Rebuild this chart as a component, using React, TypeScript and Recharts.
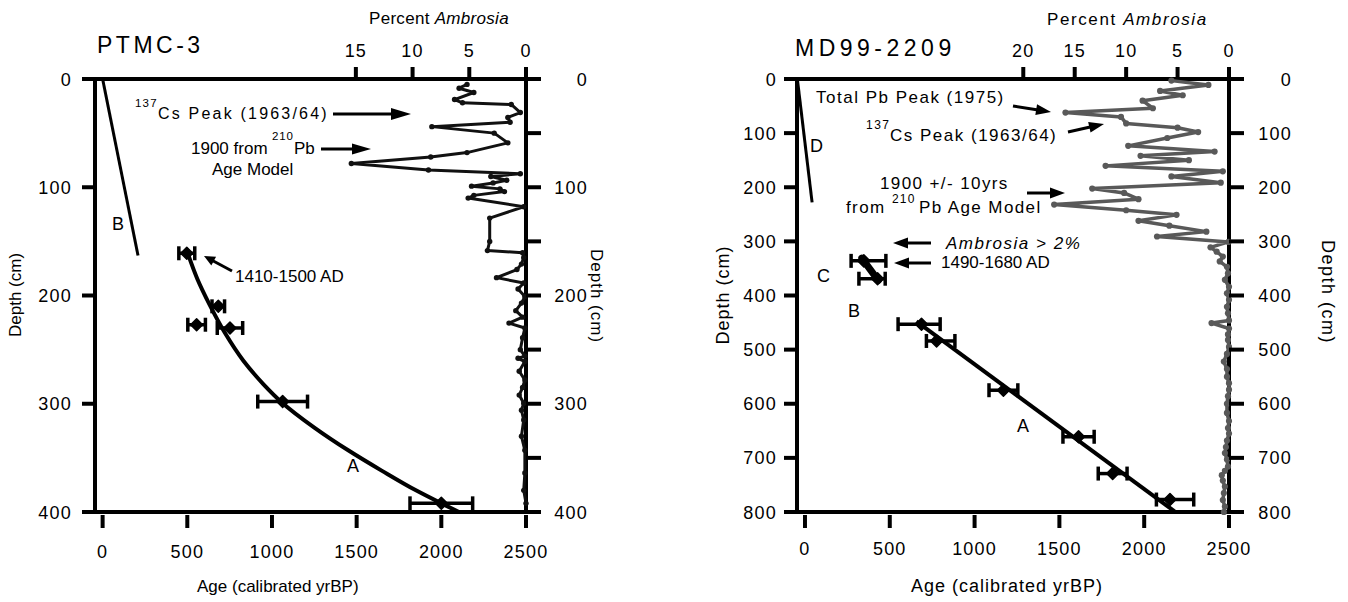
import React from 'react';
import { ScatterChart, Scatter, XAxis, YAxis, ErrorBar } from 'recharts';

const FONT = '"Liberation Sans", Arial, Helvetica, sans-serif';

// ---------- PTMC-3 (left panel) ----------
const ptmcDateAge = [497, 683, 555, 752, 1063, 2000];
const ptmcDateDepth = [161, 210, 227, 230, 298, 392];
const ptmcDateErr = [47, 37, 52, 75, 147, 185];
const ptmcCurveAAge = [507, 560, 630, 720, 830, 950, 1060, 1250, 1450, 1650, 1850, 2000, 2104];
const ptmcCurveADepth = [163, 185, 208, 234, 260, 282, 299, 322, 343, 362, 380, 392, 400];
const ptmcLineBAge = [0, 209];
const ptmcLineBDepth = [0, 163];
const ptmcAmbDepth = [5, 8.5, 12.5, 19, 22, 23.5, 31, 35.5, 40, 44, 50, 59, 68, 72, 78, 84, 87.5, 90, 93.5, 96, 99, 101.5, 104, 107.5, 110, 118, 128.5, 150, 158.5, 160.5, 165, 171, 176, 183.5, 188.5, 194, 201, 207, 214, 220, 225.5, 230, 239, 250, 256, 258, 261, 270, 278, 285, 292, 299.5, 306, 315, 330, 343, 364, 380, 392];
const ptmcAmbPct = [5.2, 5.9, 4.6, 6.3, 5.6, 1.3, 0.5, 1.6, 1.4, 8.3, 2.8, 1.6, 5.2, 8.4, 15.4, 8.6, 0.5, 3.1, 1.7, 2.9, 4.8, 2.3, 1.9, 4.6, 5.1, 0.2, 3.2, 3.2, 3.4, 0.3, 0.2, 0.4, 0.8, 2.6, 0.2, 0.7, 0.1, 0.4, 0.9, 0.3, 1.5, 0.1, 0.3, 0.5, 0.1, 0.7, 0.1, 0.6, 0.1, 0.3, 0.6, 0.2, 0.4, 0.2, 0.4, 0.1, 0.1, 0.2, 0];

// ---------- MD99-2209 (right panel) ----------
const mdDateAge = [687, 776, 1170, 1613, 1814, 2152];
const mdDateDepth = [453, 484, 575, 661, 729, 777];
const mdDateErrLow = [138, 60, 85, 92, 85, 80];
const mdDateErrHigh = [110, 108, 85, 92, 85, 140];
const mdCAge = [347, 428];
const mdCDepth = [336, 369];
const mdCErrLow = [75, 110];
const mdCErrHigh = [130, 45];
const mdCLineAge = [335, 432];
const mdCLineDepth = [331, 372];
const mdLineAAge = [657, 2184];
const mdLineADepth = [448, 800];
const mdLineDAge = [-45, 42];
const mdLineDDepth = [0, 228];
const mdAmbDepth = [3, 11, 22, 30, 40, 54, 62, 70, 82, 90, 98, 109, 123.5, 134, 142, 150, 160.5, 170.5, 180, 191.5, 202.5, 210.5, 222, 232, 242.5, 251, 262, 271, 282, 291, 301, 311, 319, 328, 337, 347, 359, 371, 384, 396, 408, 421, 433, 446, 451, 461, 472, 482, 495, 508, 522, 536, 550, 562, 574, 586, 600, 617, 632, 645, 655, 668, 680, 691, 703, 716, 724, 732, 742, 753, 765, 778, 790, 800];
const mdAmbPct = [5.6, 2.0, 6.7, 4.5, 8.4, 7.4, 15.9, 10.5, 10.0, 5.0, 3.0, 6.0, 9.8, 1.4, 8.6, 3.9, 12.0, 0.6, 5.6, 0.8, 13.3, 10.2, 8.8, 17.0, 10.0, 5.1, 8.8, 5.8, 2.2, 7.0, 0.05, 1.8, 1.2, 0.6, 0.9, 0.2, 0.1, 0.4, 0.0, 0.2, 0.0, 0.2, 0.1, 0.0, 1.7, 0.0, 0.1, 0.1, 0.0, 0.2, 0.5, 0.2, 0.2, 0.0, 0.0, 0.1, 0.2, 0.2, 0.0, 0.1, 0.0, 0.2, 0.3, 0.4, 0.2, 0.1, 0.4, 0.7, 0.6, 0.4, 0.5, 0.6, 0.4, 0.5];

// ---------- tick labels ----------
const ageTicks = [0, 500, 1000, 1500, 2000, 2500];
const ptmcDepthTicks = [0, 100, 200, 300, 400];
const ptmcDepthRightTicks = [0, 50, 100, 150, 200, 250, 300, 350, 400];
const ptmcAmbTicks = [0, 5, 10, 15];
const mdDepthTicks = [0, 100, 200, 300, 400, 500, 600, 700, 800];
const mdAmbTicks = [0, 5, 10, 15, 20];

const zip = (xs: number[], ys: number[]) => xs.map((x, i) => ({ x, y: ys[i] }));

const TICK_FS = 18;
const TICK_LS = 1.2;

const mkBottomTick = (dy: number) => (p: any) => (
  <g>
    <line x1={p.x} x2={p.x} y1={p.y + 3} y2={p.y + 16} stroke="#000" strokeWidth={4} />
    <text x={p.x} y={p.y + dy} textAnchor="middle" fontSize={TICK_FS} letterSpacing={TICK_LS} fontFamily={FONT} fill="#000">{p.payload.value}</text>
  </g>
);
const TopTick = (p: any) => (
  <g>
    <line x1={p.x} x2={p.x} y1={p.y - 12} y2={p.y} stroke="#000" strokeWidth={4} />
    <text x={p.x} y={p.y - 22} textAnchor="middle" fontSize={TICK_FS} letterSpacing={TICK_LS} fontFamily={FONT} fill="#000">{p.payload.value}</text>
  </g>
);
const mkLeftTick = (gap: number) => (p: any) => (
  <g>
    <line x1={p.x - 13} x2={p.x} y1={p.y} y2={p.y} stroke="#000" strokeWidth={4} />
    <text x={p.x - gap} y={p.y + 6.5} textAnchor="end" fontSize={TICK_FS} letterSpacing={TICK_LS} fontFamily={FONT} fill="#000">{p.payload.value}</text>
  </g>
);
const mkRightTick = (gap: number) => (p: any) => (
  <g>
    <line x1={p.x} x2={p.x + 15} y1={p.y} y2={p.y} stroke="#000" strokeWidth={4} />
    {p.payload.value % 100 === 0 ? (
      <text x={p.x + gap} y={p.y + 6.5} textAnchor="end" fontSize={TICK_FS} letterSpacing={TICK_LS} fontFamily={FONT} fill="#000">{p.payload.value}</text>
    ) : null}
  </g>
);

const NoShape = () => <g />;
const Diamond = (p: any) => (
  <polygon
    points={`${p.cx},${p.cy - 6} ${p.cx + 6},${p.cy} ${p.cx},${p.cy + 6} ${p.cx - 6},${p.cy}`}
    fill="#000" stroke="#000" strokeWidth={1.5} strokeLinejoin="round"
  />
);
const mkDot = (color: string, r: number) => (p: any) => <circle cx={p.cx} cy={p.cy} r={r} fill={color} />;

const axisLine = { stroke: '#000', strokeWidth: 4, strokeLinecap: 'square' as const };

type PanelProps = {
  width: number;
  marginRight: number;
  ageDomain: [number, number];
  depthMax: number;
  depthTicks: number[];
  depthRightTicks: number[];
  ambMax: number;
  ambTicks: number[];
  leftGap: number;
  rightGap: number;
  bottomDy: number;
  children: React.ReactNode;
};

function Panel(props: PanelProps) {
  return (
    <ScatterChart
      width={props.width}
      height={602}
      margin={{ top: 29, right: props.marginRight, bottom: 30, left: 35 }}
    >
      <XAxis
        xAxisId="age" dataKey="x" type="number" orientation="bottom" height={60}
        domain={props.ageDomain} ticks={ageTicks} interval={0}
        axisLine={axisLine} tickLine={false} tickSize={0} tickMargin={0}
        tick={mkBottomTick(props.bottomDy)}
      />
      <XAxis
        xAxisId="amb" dataKey="x" type="number" orientation="top" height={50}
        domain={[0, props.ambMax]} reversed ticks={props.ambTicks} interval={0}
        axisLine={axisLine} tickLine={false} tickSize={0} tickMargin={0}
        tick={TopTick}
      />
      <YAxis
        yAxisId="depth" dataKey="y" type="number" orientation="left" width={60}
        domain={[0, props.depthMax]} reversed ticks={props.depthTicks} interval={0}
        axisLine={axisLine} tickLine={false} tickSize={0} tickMargin={0}
        tick={mkLeftTick(props.leftGap)}
      />
      <YAxis
        yAxisId="depthR" dataKey="y" type="number" orientation="right" width={80}
        domain={[0, props.depthMax]} reversed ticks={props.depthRightTicks} interval={0}
        axisLine={axisLine} tickLine={false} tickSize={0} tickMargin={0}
        tick={mkRightTick(props.rightGap)}
      />
      {props.children}
    </ScatterChart>
  );
}

function Arrow({ x1, y1, x2, y2, w = 3, hl = 16, hw = 6 }: { x1: number; y1: number; x2: number; y2: number; w?: number; hl?: number; hw?: number }) {
  const dx = x2 - x1;
  const dy = y2 - y1;
  const L = Math.hypot(dx, dy);
  const ux = dx / L;
  const uy = dy / L;
  const bx = x2 - ux * hl;
  const by = y2 - uy * hl;
  const px = -uy;
  const py = ux;
  return (
    <g>
      <line x1={x1} y1={y1} x2={bx + ux * 2} y2={by + uy * 2} stroke="#000" strokeWidth={w} />
      <polygon points={`${x2},${y2} ${bx + px * hw},${by + py * hw} ${bx - px * hw},${by - py * hw}`} fill="#000" />
    </g>
  );
}

export default function App() {
  const ptmcDates = ptmcDateAge.map((x, i) => ({ x, y: ptmcDateDepth[i], err: ptmcDateErr[i] }));
  const mdDates = mdDateAge.map((x, i) => ({ x, y: mdDateDepth[i], err: [mdDateErrLow[i], mdDateErrHigh[i]] }));
  const mdC = mdCAge.map((x, i) => ({ x, y: mdCDepth[i], err: [mdCErrLow[i], mdCErrHigh[i]] }));

  const txt = { fontFamily: FONT, fill: '#000' } as const;

  return (
    <div style={{ position: 'absolute', left: 0, top: 0, width: 1348, height: 602, background: '#fff', fontFamily: FONT }}>
      <div style={{ position: 'absolute', left: 0, top: 0 }}>
        <Panel width={674} marginRight={68} ageDomain={[-45, 2500]} depthMax={400}
          depthTicks={ptmcDepthTicks} depthRightTicks={ptmcDepthRightTicks}
          ambMax={38} ambTicks={ptmcAmbTicks} leftGap={23} rightGap={62} bottomDy={46}>
          <Scatter xAxisId="amb" yAxisId="depthR" data={zip(ptmcAmbPct, ptmcAmbDepth)}
            line={{ stroke: '#111', strokeWidth: 3, strokeLinejoin: 'round' }} lineType="joint"
            shape={mkDot('#111', 2.7)} isAnimationActive={false} />
          <Scatter xAxisId="age" yAxisId="depth" data={zip(ptmcLineBAge, ptmcLineBDepth)}
            line={{ stroke: '#000', strokeWidth: 3 }} lineType="joint" shape={NoShape} isAnimationActive={false} />
          <Scatter xAxisId="age" yAxisId="depth" data={zip(ptmcCurveAAge, ptmcCurveADepth)}
            line={{ stroke: '#000', strokeWidth: 4, strokeLinejoin: 'round' }} lineType="joint" lineJointType="monotoneY"
            shape={NoShape} isAnimationActive={false} />
          <Scatter xAxisId="age" yAxisId="depth" data={ptmcDates} shape={Diamond} isAnimationActive={false}>
            <ErrorBar dataKey="err" direction="x" width={7} strokeWidth={3.5} stroke="#000" isAnimationActive={false} />
          </Scatter>
        </Panel>
      </div>
      <div style={{ position: 'absolute', left: 702, top: 0 }}>
        <Panel width={646} marginRight={39} ageDomain={[-47, 2500]} depthMax={800}
          depthTicks={mdDepthTicks} depthRightTicks={mdDepthTicks}
          ambMax={42} ambTicks={mdAmbTicks} leftGap={20} rightGap={63} bottomDy={43}>
          <Scatter xAxisId="amb" yAxisId="depthR" data={zip(mdAmbPct, mdAmbDepth)}
            line={{ stroke: '#595959', strokeWidth: 3.5, strokeLinejoin: 'round' }} lineType="joint"
            shape={mkDot('#595959', 3.1)} isAnimationActive={false} />
          <Scatter xAxisId="age" yAxisId="depth" data={zip(mdLineDAge, mdLineDDepth)}
            line={{ stroke: '#000', strokeWidth: 3 }} lineType="joint" shape={NoShape} isAnimationActive={false} />
          <Scatter xAxisId="age" yAxisId="depth" data={zip(mdLineAAge, mdLineADepth)}
            line={{ stroke: '#000', strokeWidth: 4 }} lineType="joint" shape={NoShape} isAnimationActive={false} />
          <Scatter xAxisId="age" yAxisId="depth" data={zip(mdCLineAge, mdCLineDepth)}
            line={{ stroke: '#000', strokeWidth: 7, strokeLinecap: 'round' }} lineType="joint" shape={NoShape} isAnimationActive={false} />
          <Scatter xAxisId="age" yAxisId="depth" data={mdC} shape={Diamond} isAnimationActive={false}>
            <ErrorBar dataKey="err" direction="x" width={7} strokeWidth={3.5} stroke="#000" isAnimationActive={false} />
          </Scatter>
          <Scatter xAxisId="age" yAxisId="depth" data={mdDates} shape={Diamond} isAnimationActive={false}>
            <ErrorBar dataKey="err" direction="x" width={7} strokeWidth={3.5} stroke="#000" isAnimationActive={false} />
          </Scatter>
        </Panel>
      </div>

      <svg width={1348} height={602} style={{ position: 'absolute', left: 0, top: 0, pointerEvents: 'none' }}>
        {/* ---- left panel texts ---- */}
        <text x={97} y={53} fontSize={23} letterSpacing={3.5} {...txt}>PTMC-3</text>
        <text x={369} y={24} fontSize={17} letterSpacing={0.3} {...txt}>Percent <tspan fontStyle="italic">Ambrosia</tspan></text>
        <text x={197} y={592} fontSize={17} {...txt}>Age (calibrated yrBP)</text>
        <text transform="translate(21,295) rotate(-90)" textAnchor="middle" fontSize={17} {...txt}>Depth (cm)</text>
        <text transform="translate(591,296) rotate(90)" textAnchor="middle" fontSize={17} letterSpacing={1} {...txt}>Depth (cm)</text>

        <text x={135} y={107} fontSize={11.5} letterSpacing={1.2} {...txt}>137</text>
        <text x={158} y={119} fontSize={16} letterSpacing={2.2} {...txt}>Cs Peak (1963/64)</text>
        <Arrow x1={333} y1={114} x2={411} y2={114} hl={20} hw={6} />
        <text x={191} y={154} fontSize={17} {...txt}>1900 from</text>
        <text x={272} y={140} fontSize={11.5} letterSpacing={0.8} {...txt}>210</text>
        <text x={294} y={154} fontSize={17} {...txt}>Pb</text>
        <Arrow x1={321} y1={149} x2={371} y2={149} hl={19} hw={5.5} />
        <text x={212} y={175} fontSize={17} {...txt}>Age Model</text>
        <text x={235} y={282} fontSize={17} {...txt}>1410-1500 AD</text>
        <Arrow x1={232} y1={271} x2={204} y2={256} hl={11} hw={5} />
        <text x={112} y={230} fontSize={18} {...txt}>B</text>
        <text x={347} y={472} fontSize={18} {...txt}>A</text>

        {/* ---- right panel texts ---- */}
        <text x={795} y={56} fontSize={23} letterSpacing={4.5} {...txt}>MD99-2209</text>
        <text x={1047} y={25} fontSize={17} letterSpacing={1.6} {...txt}>Percent <tspan fontStyle="italic">Ambrosia</tspan></text>
        <text x={911} y={592} fontSize={18} letterSpacing={1} {...txt}>Age (calibrated yrBP)</text>
        <text transform="translate(729,295) rotate(-90)" textAnchor="middle" fontSize={18} letterSpacing={1} {...txt}>Depth (cm)</text>
        <text transform="translate(1322,292) rotate(90)" textAnchor="middle" fontSize={18} letterSpacing={1.5} {...txt}>Depth (cm)</text>

        <text x={816} y={103} fontSize={17} letterSpacing={1.5} {...txt}>Total Pb Peak (1975)</text>
        <Arrow x1={1013} y1={106} x2={1051} y2={112} hl={15} hw={5.5} />
        <text x={866} y={129} fontSize={12} letterSpacing={1.5} {...txt}>137</text>
        <text x={890} y={141} fontSize={17} letterSpacing={1.5} {...txt}>Cs Peak (1963/64)</text>
        <Arrow x1={1068} y1={132} x2={1104} y2={124} hl={15} hw={5.5} />
        <text x={880} y={189} fontSize={17} letterSpacing={1.4} {...txt}>1900 +/- 10yrs</text>
        <text x={846} y={213} fontSize={17} letterSpacing={1.4} {...txt}>from</text>
        <text x={892} y={203} fontSize={12} letterSpacing={1.2} {...txt}>210</text>
        <text x={919} y={213} fontSize={17} letterSpacing={1.4} {...txt}>Pb Age Model</text>
        <Arrow x1={1027} y1={193} x2={1065} y2={193} hl={15} hw={5.5} />
        <text x={946} y={249} fontSize={17} letterSpacing={1.5} fontStyle="italic" {...txt}>Ambrosia &gt; 2%</text>
        <Arrow x1={931} y1={243} x2={893} y2={243} hl={15} hw={5.5} />
        <text x={941} y={268} fontSize={17} {...txt}>1490-1680 AD</text>
        <Arrow x1={931} y1={263} x2={894} y2={263} hl={15} hw={5.5} />
        <text x={810} y={152} fontSize={18} {...txt}>D</text>
        <text x={817} y={282} fontSize={18} {...txt}>C</text>
        <text x={848} y={317} fontSize={18} {...txt}>B</text>
        <text x={1017} y={432} fontSize={18} {...txt}>A</text>
      </svg>
    </div>
  );
}
